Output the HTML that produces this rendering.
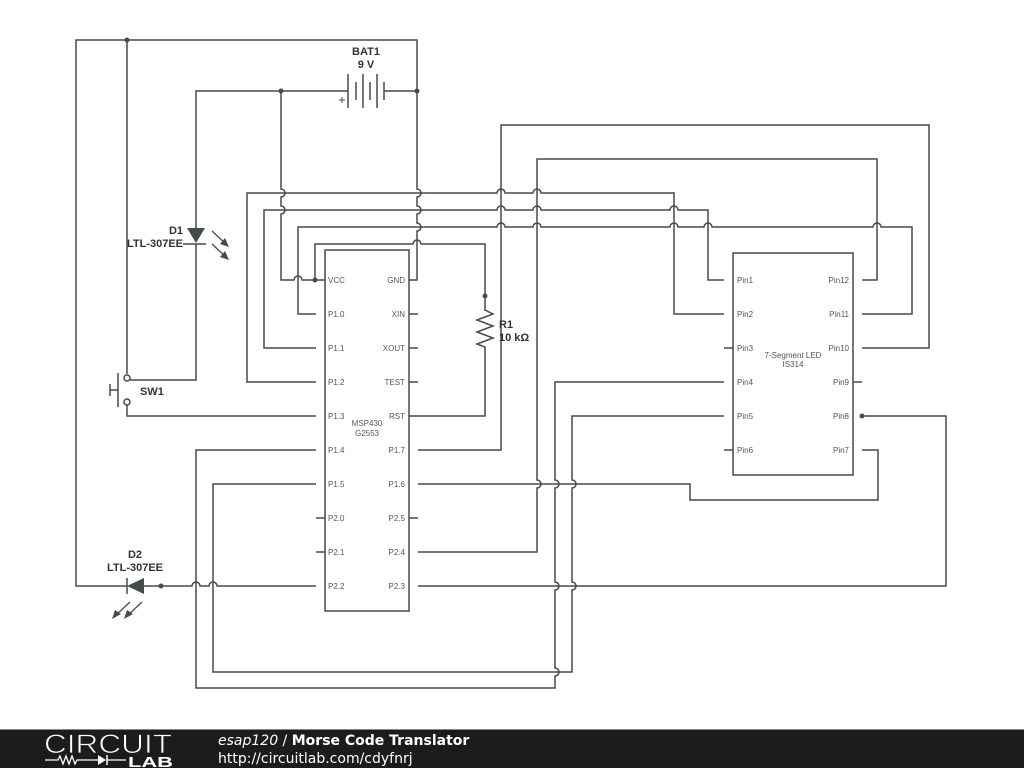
<!DOCTYPE html>
<html><head><meta charset="utf-8"><style>
html,body{margin:0;padding:0;background:#fff;width:1024px;height:768px;overflow:hidden}
svg{display:block}
</style></head><body>
<svg width="1024" height="768" viewBox="0 0 1024 768" xmlns="http://www.w3.org/2000/svg" font-family="Liberation Sans, sans-serif">
<g fill="none" stroke="#454a4d" stroke-width="1.5">
<path d="M127,586 H76 V40 H417 V189 A4,4 0 0 1 417,197 V206 A4,4 0 0 1 417,214 V223 A4,4 0 0 1 417,231 V280 H409"/>
<path d="M127,40 V374"/>
<circle cx="127" cy="378" r="3"/>
<circle cx="127" cy="402" r="3"/>
<path d="M130,380 H196 V244"/>
<path d="M118,373 V407 M110,390 H118 M110,384 V396"/>
<path d="M127,405 V416 H316"/>
<path d="M196,228 V91 H348"/>
<path d="M183,244 H206"/>
<path d="M348,74 V108 M356,82 V100 M363,74 V108 M370,82 V100 M377,74 V108 M384,82 V100"/>
<path d="M384,91 H417"/>
<path d="M339,100 H345 M342,97 V103" stroke-width="1"/>
<path d="M281,91 V189 A4,4 0 0 1 281,197 V206 A4,4 0 0 1 281,214 V280 H294 A4,4 0 0 1 302,280 H325"/>
<path d="M315,280 V244 H413 A4,4 0 0 1 421,244 H485 V310 L493,314 L477,320 L493,326 L477,332 L493,338 L477,344 L485,347 V416 H409"/>
<path d="M316,314 H298 V227 H497 A4,4 0 0 1 505,227 H533 A4,4 0 0 1 541,227 H670 A4,4 0 0 1 678,227 H704 A4,4 0 0 1 712,227 H873 A4,4 0 0 1 881,227 H912 V314 H862"/>
<path d="M316,348 H264 V210 H497 A4,4 0 0 1 505,210 H533 A4,4 0 0 1 541,210 H670 A4,4 0 0 1 678,210 H708 V280 H724"/>
<path d="M316,382 H247 V193 H497 A4,4 0 0 1 505,193 H533 A4,4 0 0 1 541,193 H674 V314 H724"/>
<path d="M418,450 H501 V125 H929 V348 H862"/>
<path d="M862,280 H877 V159 H537 V480 A4,4 0 0 1 537,488 V552 H418"/>
<path d="M418,484 H690 V500 H878 V450 H862"/>
<path d="M724,382 H555 V480 A4,4 0 0 1 555,488 V582 A4,4 0 0 1 555,590 V668 A4,4 0 0 1 555,676 V688 H196 V450 H316"/>
<path d="M724,416 H572 V480 A4,4 0 0 1 572,488 V582 A4,4 0 0 1 572,590 V672 H213 V484 H316"/>
<path d="M418,586 H946 V416 H862"/>
<path d="M144,586 H192 A4,4 0 0 1 200,586 H209 A4,4 0 0 1 217,586 H316"/>
<path d="M127,578 V594"/>
<rect x="325" y="250" width="84" height="361"/>
<path d="M316,518 H325 M316,552 H325 M409,314 H418 M409,348 H418 M409,382 H418 M409,518 H418"/>
<rect x="733" y="253" width="120" height="222"/>
<path d="M724,348 H733 M724,450 H733 M853,382 H862"/>
<path d="M212,231 L226,244 M212,244 L226,257" stroke-width="1.3"/>
<path d="M142,602 L127,616 M130,602 L115,616" stroke-width="1.3"/>
</g>
<g fill="#454a4d">
<polygon points="187,228 205,228 196,243"/>
<polygon points="127,586 144,578 144,594"/>
<polygon points="229,247 220,244 225,238"/>
<polygon points="229,260 220,257 225,251"/>
<polygon points="112,619 115,610 121,614"/>
<polygon points="124,619 127,610 133,614"/>
<circle cx="127" cy="40" r="2.5"/>
<circle cx="281" cy="91" r="2.5"/>
<circle cx="417" cy="91" r="2.5"/>
<circle cx="315" cy="280" r="2.5"/>
<circle cx="485" cy="296" r="2.5"/>
<circle cx="862" cy="416" r="2.5"/>
<circle cx="161" cy="586" r="2.5"/>
</g>
<g fill="#333" font-weight="bold" font-size="11">
<text x="366" y="55" text-anchor="middle">BAT1</text>
<text x="366" y="68" text-anchor="middle">9 V</text>
<text x="183" y="234" text-anchor="end">D1</text>
<text x="183" y="247" text-anchor="end">LTL-307EE</text>
<text x="140" y="395">SW1</text>
<text x="499" y="328">R1</text>
<text x="499" y="341">10 kΩ</text>
<text x="135" y="558" text-anchor="middle">D2</text>
<text x="135" y="571" text-anchor="middle">LTL-307EE</text>
</g>
<g fill="#555" font-size="8">
<text x="328" y="283">VCC</text><text x="405" y="283" text-anchor="end">GND</text>
<text x="328" y="317">P1.0</text><text x="405" y="317" text-anchor="end">XIN</text>
<text x="328" y="351">P1.1</text><text x="405" y="351" text-anchor="end">XOUT</text>
<text x="328" y="385">P1.2</text><text x="405" y="385" text-anchor="end">TEST</text>
<text x="328" y="419">P1.3</text><text x="405" y="419" text-anchor="end">RST</text>
<text x="328" y="453">P1.4</text><text x="405" y="453" text-anchor="end">P1.7</text>
<text x="328" y="487">P1.5</text><text x="405" y="487" text-anchor="end">P1.6</text>
<text x="328" y="521">P2.0</text><text x="405" y="521" text-anchor="end">P2.5</text>
<text x="328" y="555">P2.1</text><text x="405" y="555" text-anchor="end">P2.4</text>
<text x="328" y="589">P2.2</text><text x="405" y="589" text-anchor="end">P2.3</text>
<text x="367" y="426" text-anchor="middle">MSP430</text>
<text x="367" y="436" text-anchor="middle">G2553</text>
<text x="737" y="283">Pin1</text><text x="849" y="283" text-anchor="end">Pin12</text>
<text x="737" y="317">Pin2</text><text x="849" y="317" text-anchor="end">Pin11</text>
<text x="737" y="351">Pin3</text><text x="849" y="351" text-anchor="end">Pin10</text>
<text x="737" y="385">Pin4</text><text x="849" y="385" text-anchor="end">Pin9</text>
<text x="737" y="419">Pin5</text><text x="849" y="419" text-anchor="end">Pin8</text>
<text x="737" y="453">Pin6</text><text x="849" y="453" text-anchor="end">Pin7</text>
<text x="793" y="358" text-anchor="middle">7-Segment LED</text>
<text x="793" y="367" text-anchor="middle">IS314</text>
</g>
<rect x="0" y="729" width="1024" height="39" fill="#1c1c1c"/>
<rect x="0" y="729" width="1024" height="1" fill="#888"/>
<text x="44" y="753" fill="#fff" font-size="27" textLength="128" lengthAdjust="spacingAndGlyphs" stroke="#1c1c1c" stroke-width="0.8">CIRCUIT</text>
<path d="M45,760 H58 L60,756 L63,764 L66,756 L69,764 L72,756 L75,764 L77,760 H98 M107,760 H126" stroke="#fff" stroke-width="1.3" fill="none"/>
<polygon points="98,755 98,765 106,760" fill="#fff"/>
<path d="M107,755 V765" stroke="#fff" stroke-width="1.5"/>
<text x="128" y="767" fill="#fff" font-size="15" font-weight="bold" textLength="45" lengthAdjust="spacingAndGlyphs">LAB</text>
<text x="218" y="745" fill="#fff" font-size="14" font-family="DejaVu Sans, sans-serif"><tspan font-style="italic">esap120</tspan> / <tspan font-weight="bold">Morse Code Translator</tspan></text>
<text x="218" y="763" fill="#fff" font-size="14" font-family="DejaVu Sans, sans-serif">http://circuitlab.com/cdyfnrj</text>
</svg>
</body></html>
